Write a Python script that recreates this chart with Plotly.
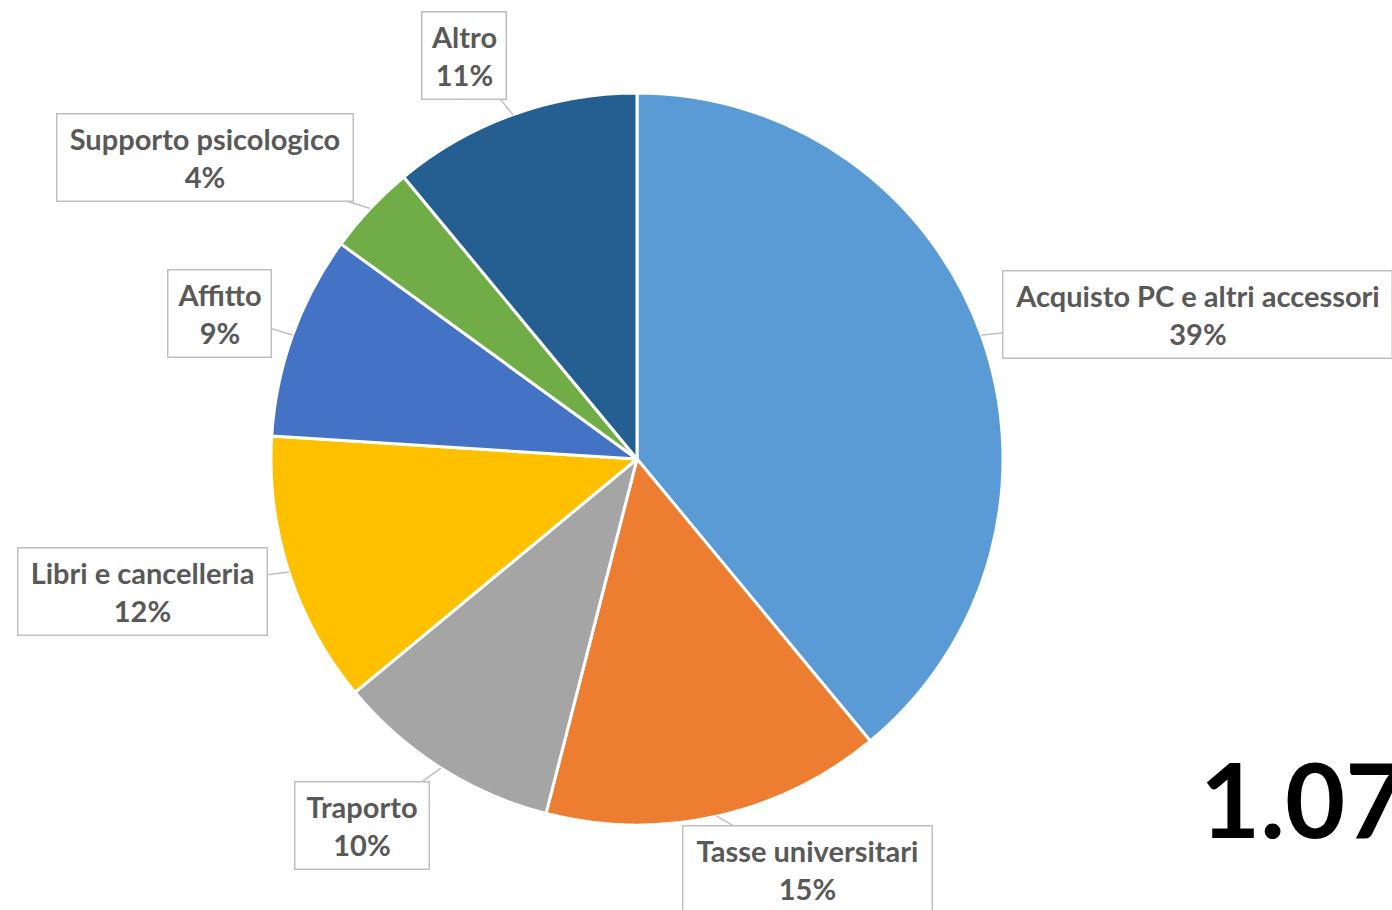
import math
import plotly.graph_objects as go

# ---- data ----
categories = ["Acquisto PC e altri accessori", "Tasse universitari", "Traporto",
              "Libri e cancelleria", "Affitto", "Supporto psicologico", "Altro"]
values = [39, 15, 10, 12, 9, 4, 11]
slice_colors = ["#5B9BD5", "#ED7D31", "#A5A5A5", "#FFC000", "#4472C4", "#70AD47", "#255E91"]
big_number = "1.07"

# ---- layout parameters ----
W, H = 1392, 910
CX, CY, R = 637, 459, 366          # pie centre / radius in pixels
FONT = "Lato"
# label box: (offset x, offset y of box centre from callout point in px, box width, box height)
label_boxes = [
    (216, -21, 388, 86),
    (91, 53, 248, 86),
    (-79, 57, 133, 86),
    (-146, 19, 248, 86),
    (-73, -22, 102, 86),
    (-165, -51, 295, 86),
    (-49, -59, 83, 86),
]

fig = go.Figure()
fig.add_trace(go.Pie(
    labels=categories,
    values=values,
    sort=False,
    direction="clockwise",
    rotation=0,
    marker=dict(colors=slice_colors, line=dict(color="white", width=3)),
    textinfo="none",
    hoverinfo="label+percent",
    showlegend=False,
    domain=dict(x=[(CX - R) / W, (CX + R) / W], y=[1 - (CY + R) / H, 1 - (CY - R) / H]),
))

total = sum(values)
cum = 0
annotations = []
for cat, v, box in zip(categories, values, label_boxes):
    mid = (cum + v / 2) / total * 2 * math.pi
    cum += v
    px = CX + R * math.sin(mid)
    py = CY - R * math.cos(mid)
    dx, dy, bw, bh = box
    pct = f"{round(v / total * 100)}%"
    annotations.append(dict(
        x=px / W, y=1 - py / H, xref="paper", yref="paper",
        ax=dx, ay=dy, axref="pixel", ayref="pixel",
        showarrow=True, arrowhead=0, arrowwidth=1.5, arrowcolor="#BFBFBF",
        text=f"<b>{cat}</b><br><b>{pct}</b>",
        font=dict(family=FONT, size=29, color="#595959"),
        bordercolor="#BFBFBF", borderwidth=1.5, borderpad=0,
        bgcolor="white", width=bw, height=bh, align="center",
    ))

annotations.append(dict(
    x=1198 / W, y=1 - 797 / H, xref="paper", yref="paper",
    xanchor="left", yanchor="middle", showarrow=False,
    text=f"<b>{big_number}</b>",
    font=dict(family=FONT, size=104, color="black"),
))

fig.update_layout(
    width=W, height=H,
    margin=dict(l=0, r=0, t=0, b=0),
    paper_bgcolor="white", plot_bgcolor="white",
    annotations=annotations,
)

fig.write_html("out.html", config={"displayModeBar": False},
               post_script="document.body.style.margin='0';document.body.style.overflow='hidden';")
